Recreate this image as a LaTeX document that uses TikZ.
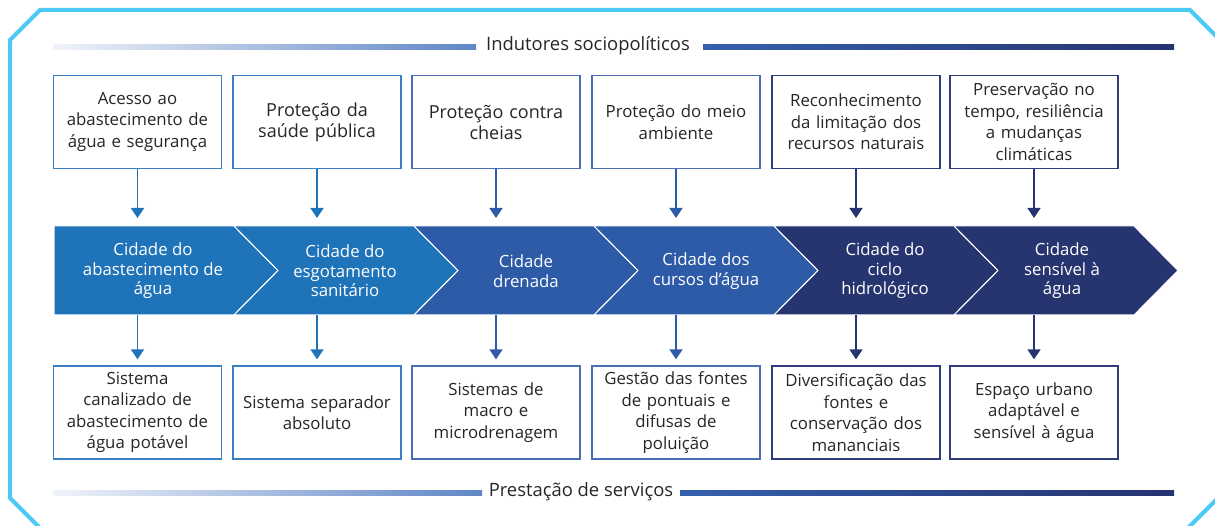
\documentclass[tikz,border=0pt]{standalone}
\usepackage{fontspec}
\setmainfont{Open Sans}
\usetikzlibrary{arrows.meta}
\definecolor{framec}{HTML}{4CC9F4}
\definecolor{blueA}{HTML}{1F73B9}
\definecolor{blueB}{HTML}{2D5BA8}
\definecolor{blueC}{HTML}{26356F}
\definecolor{bordA}{HTML}{3A80C4}
\definecolor{bordB}{HTML}{4A6DB3}
\definecolor{bordC}{HTML}{2E3C7C}
\definecolor{txt}{HTML}{262626}
\definecolor{gL}{HTML}{F0F3F9}
\definecolor{gM}{HTML}{5F86C6}
\definecolor{gN}{HTML}{3560AE}
\definecolor{gR}{HTML}{25336E}
\begin{document}
\begin{tikzpicture}[x=1pt,y=-1pt,
 box/.style={draw, line width=1.3pt, fill=white, minimum width=168pt, minimum height=93pt,
   align=center, text width=166pt, font=\fontsize{16.8}{21.5}\selectfont, text=txt, inner sep=0pt},
 bigbox/.style={box, font=\fontsize{18}{21}\selectfont},
 ctext/.style={text=white, align=center, font=\fontsize{16.8}{19.5}\selectfont, inner sep=0pt},
 hdr/.style={text=txt, font=\fontsize{18.4}{20}\selectfont, inner sep=0pt},
 arr/.style={-{Triangle[width=13pt,length=10pt]}, line width=1.5pt},
 seg/.style={draw=white, line width=1pt},
]
\useasboundingbox (0,0) rectangle (1215,526);
\begin{scope}
\clip (0,0) rectangle (1215,526);
% frame
\draw[framec, line width=4pt, line join=miter] (10,40) -- (40,10) -- (1190,10) -- (1240,60) -- (1240,476) -- (1180,536) -- (52,540) -- (10,498) -- cycle;
\end{scope}

% header lines
\node[hdr] (top) at (588,46) {Indutores sociopolíticos};
\shade[left color=gL, right color=gM] (53,44.5) rectangle (476,49.5);
\shade[left color=gN, right color=gR] (703,44.5) rectangle (1174,49.5);
\node[hdr] (bot) at (581,492) {Prestação de serviços};
\shade[left color=gL, right color=gM] (53,490.5) rectangle (482,495.5);
\shade[left color=gN, right color=gR] (680,490.5) rectangle (1174,495.5);

% chevron band
\fill[blueA, seg] (54,226) -- (234,226) -- (278,270.5) -- (234,315) -- (54,315) -- cycle;
\fill[blueA, seg] (234,226) -- (414,226) -- (458,270.5) -- (414,315) -- (234,315) -- (278,270.5) -- cycle;
\fill[blueB, seg] (414,226) -- (594,226) -- (638,270.5) -- (594,315) -- (414,315) -- (458,270.5) -- cycle;
\fill[blueB, seg] (594,226) -- (774,226) -- (818,270.5) -- (774,315) -- (594,315) -- (638,270.5) -- cycle;
\fill[blueC, seg] (774,226) -- (954,226) -- (998,270.5) -- (954,315) -- (774,315) -- (818,270.5) -- cycle;
\fill[blueC, seg] (954,226) -- (1134,226) -- (1178,270.5) -- (1134,315) -- (954,315) -- (998,270.5) -- cycle;
\coordinate (bt) at (0,226);
\coordinate (bb) at (0,315);

\node[ctext] (c1) at (153,271) {Cidade do\\abastecimento de\\água};
\node[ctext] (c2) at (345,271) {Cidade do\\esgotamento\\sanitário};
\node[ctext] (c3) at (526,271) {Cidade\\drenada};
\node[ctext] (c4) at (706,271) {Cidade dos\\cursos d’água};
\node[ctext] (c5) at (885,271) {Cidade do\\ciclo\\hidrológico};
\node[ctext] (c6) at (1062,271) {Cidade\\sensível à\\água};

% top boxes
\node[box, draw=bordA] (t1) at (137.5,122) {Acesso ao\\abastecimento de\\água e segurança};
\node[bigbox, draw=bordA] (t2) at (317,122) {Proteção da\\saúde pública};
\node[bigbox, draw=bordB] (t3) at (496,122) {Proteção contra\\cheias};
\node[box, draw=bordB] (t4) at (676,122) {Proteção do meio\\ambiente};
\node[box, draw=bordC] (t5) at (856,122) {Reconhecimento\\da limitação dos\\recursos naturais};
\node[box, draw=bordC] (t6) at (1034,122) {Preservação no\\tempo, resiliência\\a mudanças\\climáticas};

% bottom boxes
\node[box, draw=bordA] (b1) at (137.5,412.5) {Sistema\\canalizado de\\abastecimento de\\água potável};
\node[box, draw=bordA] (b2) at (317,412.5) {Sistema separador\\absoluto};
\node[box, draw=bordB] (b3) at (496,412.5) {Sistemas de\\macro e\\microdrenagem};
\node[box, draw=bordB] (b4) at (676,412.5) {Gestão das fontes\\de pontuais e\\difusas de\\poluição};
\node[box, draw=bordC] (b5) at (856,412.5) {Diversificação das\\fontes e\\conservação dos\\mananciais};
\node[box, draw=bordC] (b6) at (1034,412.5) {Espaço urbano\\adaptável e\\sensível à água};

% arrows top -> band
\draw[arr, blueA, shorten >=8pt] (t1.south) -- (t1.south |- bt);
\draw[arr, blueA, shorten >=8pt] (t2.south) -- (t2.south |- bt);
\draw[arr, blueB, shorten >=8pt] (t3.south) -- (t3.south |- bt);
\draw[arr, blueB, shorten >=8pt] (t4.south) -- (t4.south |- bt);
\draw[arr, blueC, shorten >=8pt] (t5.south) -- (t5.south |- bt);
\draw[arr, blueC, shorten >=8pt] (t6.south) -- (t6.south |- bt);
% arrows band -> bottom
\draw[arr, blueA, shorten >=6pt] (b1.north |- bb) -- (b1.north);
\draw[arr, blueA, shorten >=6pt] (b2.north |- bb) -- (b2.north);
\draw[arr, blueB, shorten >=6pt] (b3.north |- bb) -- (b3.north);
\draw[arr, blueB, shorten >=6pt] (b4.north |- bb) -- (b4.north);
\draw[arr, blueC, shorten >=6pt] (b5.north |- bb) -- (b5.north);
\draw[arr, blueC, shorten >=6pt] (b6.north |- bb) -- (b6.north);
\end{tikzpicture}
\end{document}
